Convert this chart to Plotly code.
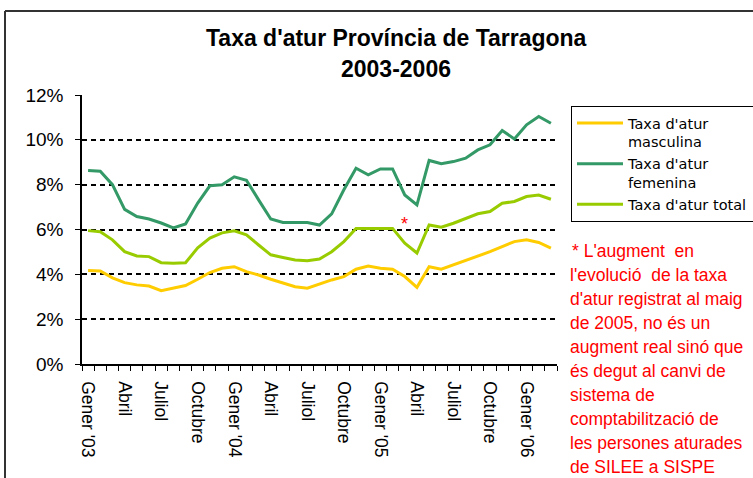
import plotly.graph_objects as go

# ---- data ----
month_names = ["Gener", "Febrer", "Març", "Abril", "Maig", "Juny", "Juliol",
               "Agost", "Setembre", "Octubre", "Novembre", "Desembre"]
years = [2003, 2004, 2005, 2006]
categories = [f"{m} {y}" for y in years for m in month_names][:39]
tick_labels = ["Gener '03", "", "", "Abril", "", "", "Juliol", "", "", "Octubre", "", "",
               "Gener '04", "", "", "Abril", "", "", "Juliol", "", "", "Octubre", "", "",
               "Gener '05", "", "", "Abril", "", "", "Juliol", "", "", "Octubre", "", "",
               "Gener '06", "", ""]

masculina = [4.17, 4.15, 3.84, 3.63, 3.53, 3.48, 3.27, 3.38, 3.50, 3.78,
             4.08, 4.27, 4.34, 4.12, 3.97, 3.78, 3.60, 3.45, 3.38, 3.57,
             3.75, 3.90, 4.23, 4.37, 4.27, 4.23, 3.90, 3.42, 4.34, 4.23,
             4.42, 4.61, 4.79, 5.01, 5.24, 5.46, 5.54, 5.42, 5.17]
femenina = [8.63, 8.60, 8.00, 6.90, 6.58, 6.47, 6.29, 6.07, 6.25, 7.18,
            7.95, 8.00, 8.35, 8.20, 7.32, 6.47, 6.31, 6.31, 6.31, 6.20,
            6.70, 7.77, 8.73, 8.44, 8.70, 8.70, 7.54, 7.10, 9.08, 8.93,
            9.03, 9.18, 9.55, 9.78, 10.42, 10.04, 10.67, 11.04, 10.74]
total = [5.95, 5.90, 5.54, 5.01, 4.82, 4.79, 4.52, 4.50, 4.52, 5.18,
         5.62, 5.85, 5.94, 5.76, 5.31, 4.87, 4.75, 4.64, 4.61, 4.68,
         5.01, 5.46, 6.05, 6.05, 6.05, 6.05, 5.39, 4.95, 6.20, 6.10,
         6.28, 6.50, 6.70, 6.80, 7.17, 7.25, 7.47, 7.54, 7.35]

title_lines = ["Taxa d'atur Província de Tarragona", "2003-2006"]
note_lines = ["* L'augment  en", "l'evolució  de la taxa", "d'atur registrat al maig",
              "de 2005, no és un", "augment real sinó que", "és degut al canvi de",
              "sistema de", "comptabilització de", "les persones aturades",
              "de SILEE a SISPE"]

# ---- layout geometry (page body margin removed below) ----
W, H = 753, 478
PLOT_X0, PLOT_X1, PLOT_Y0, PLOT_Y1 = 82, 557, 95, 364
L, T, R, B = PLOT_X0, PLOT_Y0, W - PLOT_X1, H - PLOT_Y1
PW, PH = W - L - R, H - T - B
FONT = "Liberation Sans, Arial, sans-serif"
LEGEND_FONT = "DejaVu Sans, Verdana, sans-serif"


def px(x):
    return (x - L) / PW


def py(y):
    return (PLOT_Y1 - y) / PH


fig = go.Figure()
fig.add_trace(go.Scatter(x=categories, y=masculina, mode="lines",
                         name="Taxa d'atur<br>masculina",
                         line=dict(color="#FFCC00", width=3)))
fig.add_trace(go.Scatter(x=categories, y=femenina, mode="lines",
                         name="Taxa d'atur<br>femenina",
                         line=dict(color="#339966", width=3)))
fig.add_trace(go.Scatter(x=categories, y=total, mode="lines",
                         name="Taxa d'atur total",
                         line=dict(color="#99CC00", width=3)))

annotations = []
for i, t in enumerate(title_lines):
    annotations.append(dict(text=f"<b>{t}</b>", xref="paper", yref="paper",
                            x=px(396), y=py(38 + 31 * i),
                            xanchor="center", yanchor="middle", showarrow=False,
                            font=dict(family=FONT, size=23, color="black")))
for i, t in enumerate(note_lines):
    annotations.append(dict(text=t, xref="paper", yref="paper",
                            x=px(568 if i else 570), y=py(251 + 24 * i),
                            xanchor="left", yanchor="middle", showarrow=False,
                            font=dict(family=FONT, size=17.5, color="#FF0000")))
annotations.append(dict(text="*", xref="x", yref="y", x=categories[26], y=6.25,
                        xanchor="center", yanchor="middle", showarrow=False,
                        font=dict(family=FONT, size=18, color="#FF0000")))

frame = dict(color="#333333", width=2)
fig.update_layout(
    width=W, height=H,
    margin=dict(l=L, r=R, t=T, b=B, pad=0, autoexpand=False),
    paper_bgcolor="white", plot_bgcolor="white",
    font=dict(family=FONT, color="black"),
    showlegend=True,
    legend=dict(x=px(571), y=py(106), xanchor="left", yanchor="top",
                bordercolor="black", borderwidth=1, bgcolor="white",
                font=dict(family=LEGEND_FONT, size=14.5, color="black"),
                valign="top", tracegroupgap=0, itemwidth=46),
    annotations=annotations,
    shapes=[dict(type="line", xref="paper", yref="paper",
                 x0=px(5), x1=px(5), y0=py(478), y1=py(11), line=frame, layer="below"),
            dict(type="line", xref="paper", yref="paper",
                 x0=px(5), x1=px(753), y0=py(11), y1=py(11), line=frame, layer="below")],
    xaxis=dict(type="category", tickmode="array", tickvals=categories,
               ticktext=tick_labels, tickangle=90, tickson="boundaries",
               ticks="outside", ticklen=5, tickcolor="black",
               showline=True, linecolor="black", linewidth=1.5,
               showgrid=False, zeroline=False,
               tickfont=dict(family=FONT, size=17.5, color="black"),
               ticklabelstandoff=12,
               range=[-0.5, len(categories) - 0.5]),
    yaxis=dict(range=[0, 12], dtick=2, tick0=0, ticksuffix="%",
               ticks="outside", ticklen=5, tickcolor="black",
               showline=True, linecolor="black", linewidth=1.5,
               showgrid=True, gridcolor="black", gridwidth=1.5,
               griddash="5px,4px", zeroline=False,
               tickfont=dict(family=FONT, size=19, color="black"),
               ticklabelstandoff=8),
)

fig.write_html("out.html", config={"displayModeBar": False},
               post_script="document.body.style.margin='0';document.body.style.overflow='hidden';")
